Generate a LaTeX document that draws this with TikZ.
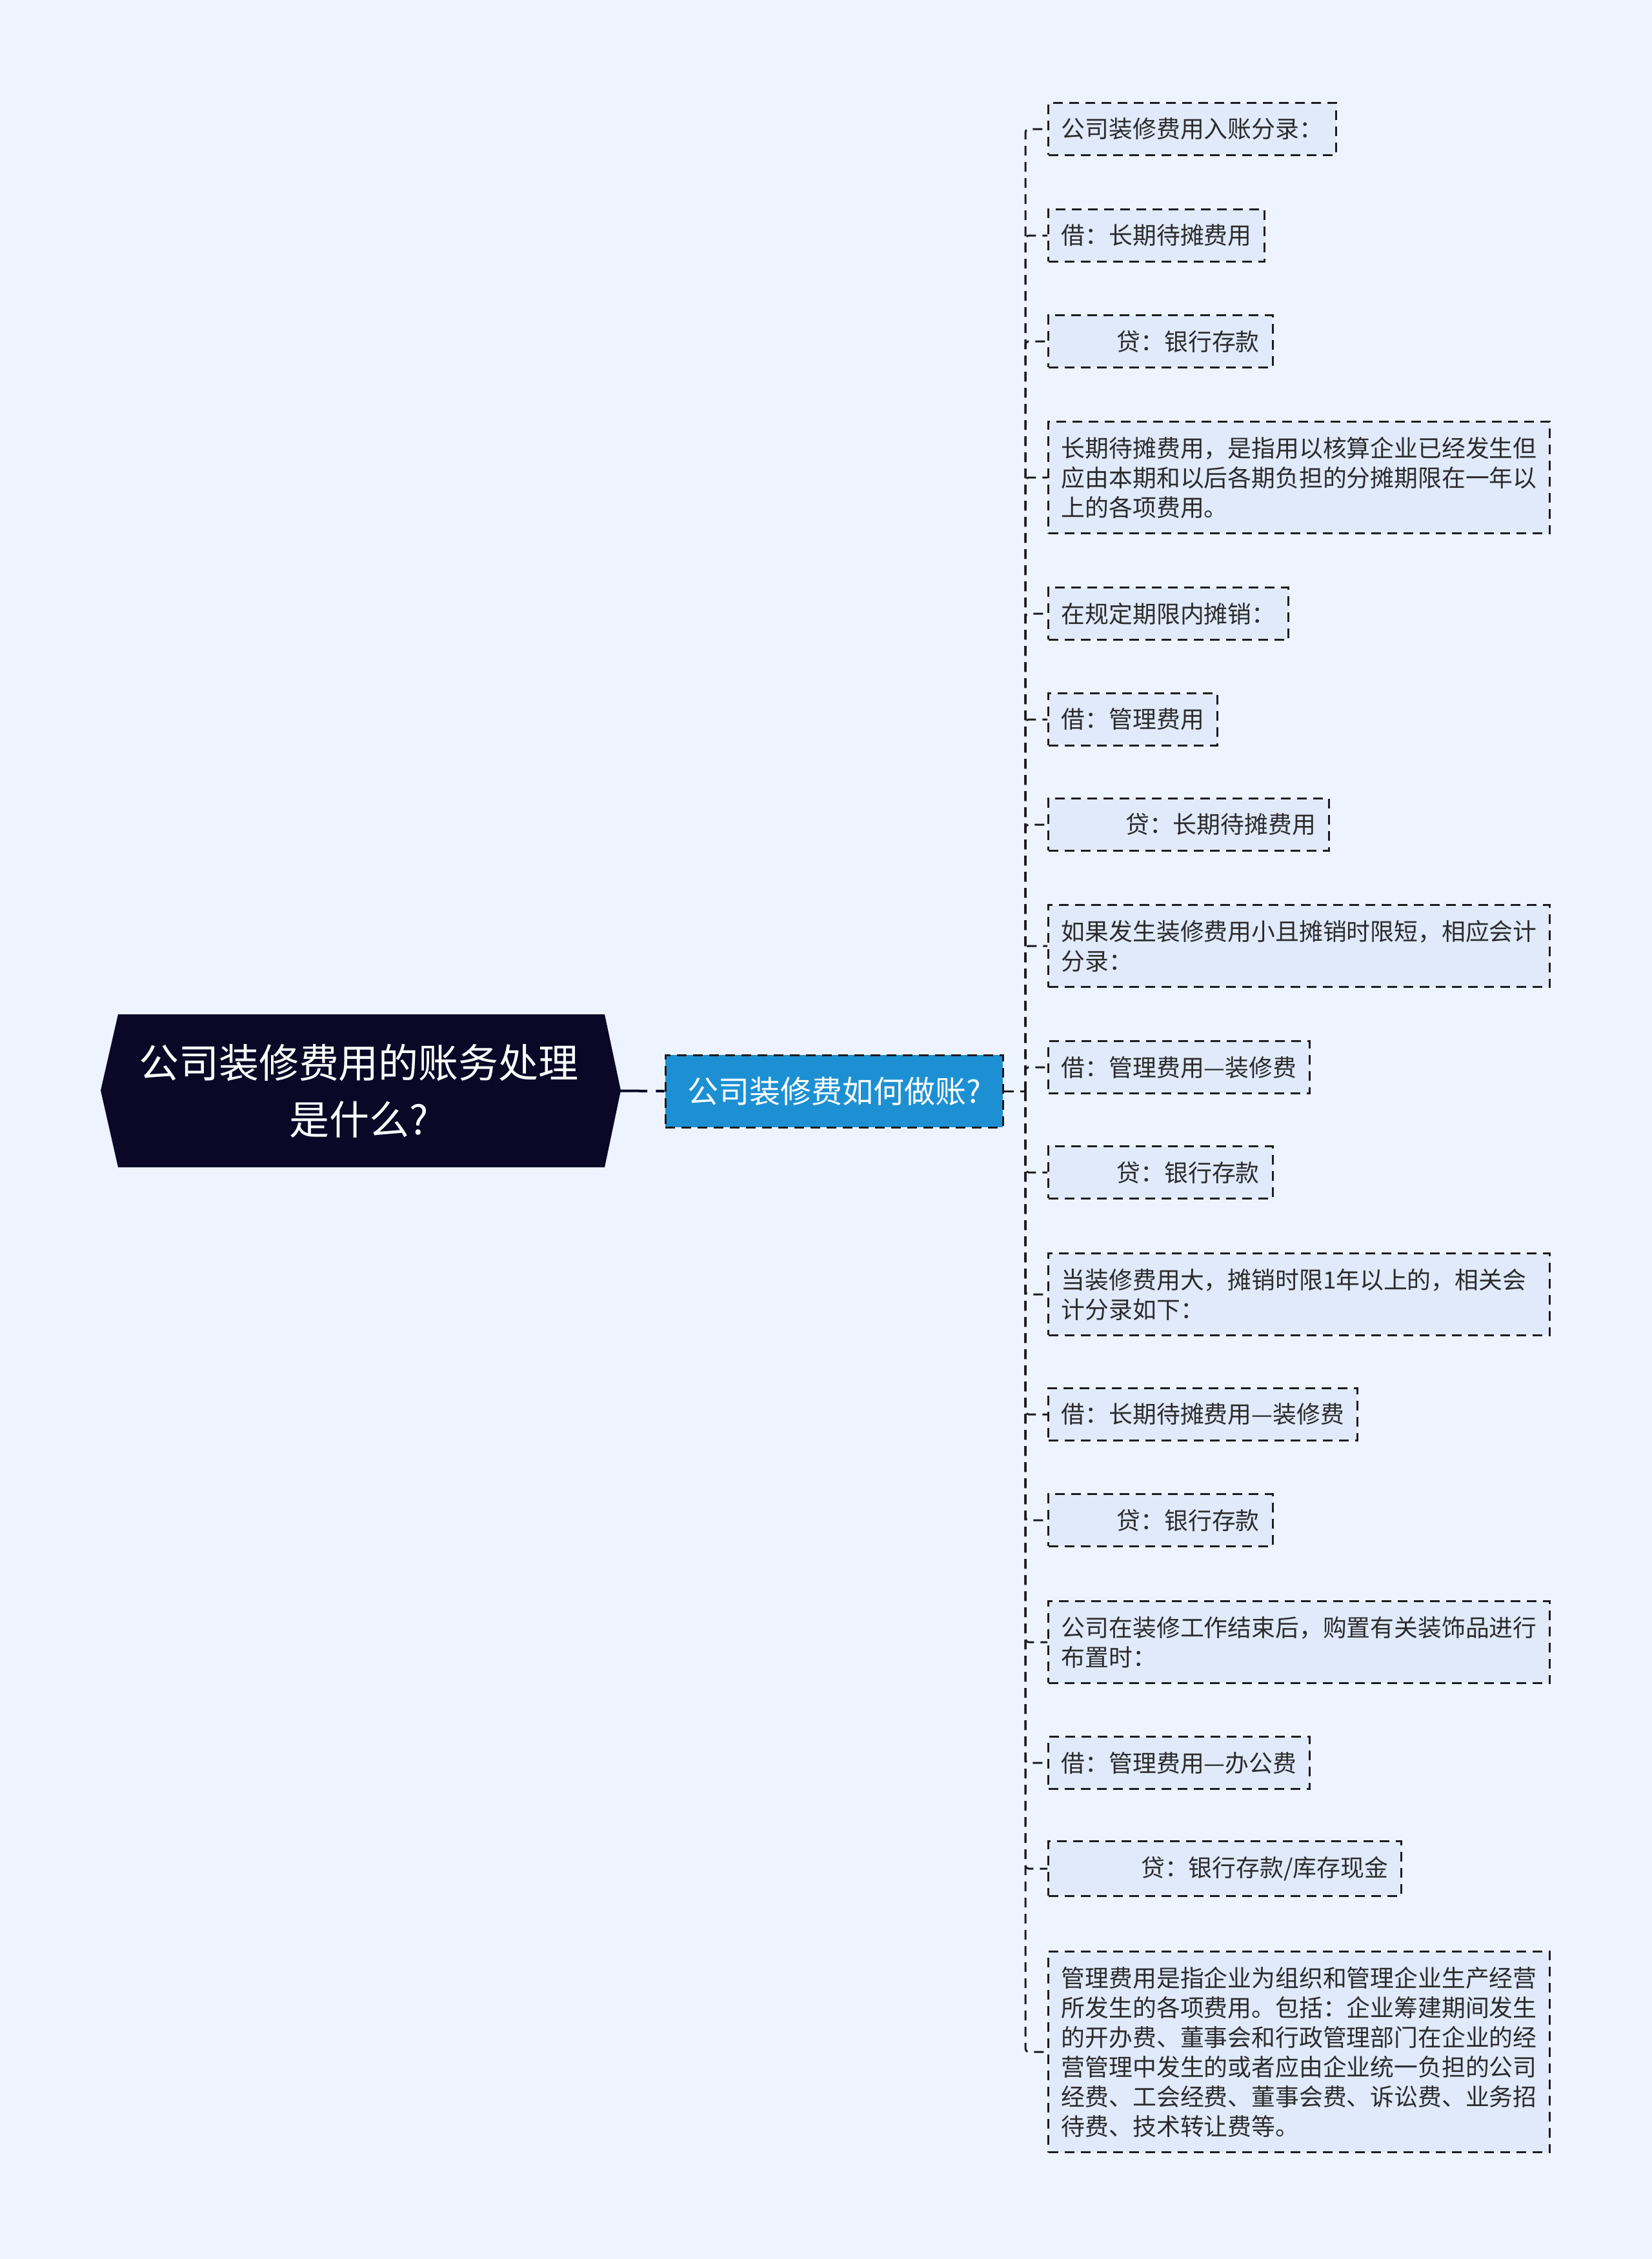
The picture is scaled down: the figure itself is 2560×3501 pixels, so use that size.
\documentclass[tikz,border=0pt]{standalone}
\usepackage{fontspec}
\setmainfont{Noto Sans CJK SC}
\usetikzlibrary{positioning}
\definecolor{cPage}{HTML}{EEF4FF}
\definecolor{cLeaf}{HTML}{E0EAFB}
\definecolor{cRoot}{HTML}{0A0727}
\definecolor{cMid}{HTML}{1D90D3}
\definecolor{cLine}{HTML}{1C1C1C}
\definecolor{cInk}{HTML}{2B2B2B}
\tikzset{
  link/.style={draw=cLine, line width=0.9pt, dash pattern=on 4.5pt off 3pt, rounded corners=1.5pt},
  trunk/.style={draw=cRoot, line width=1.2pt, dash pattern=on 13pt off 4pt},
  leaf/.style={draw=cLine, fill=cLeaf, line width=0.9pt, dash pattern=on 4.5pt off 3pt,
               anchor=west, align=left, text=cInk, inner xsep=6.1pt, inner ysep=7pt,
               font=\fontsize{11.05}{13.8}\selectfont},
  wideleaf/.style={leaf, text width=221pt},
  midbox/.style={draw=cLine, fill=cMid, line width=0.9pt, dash pattern=on 4.5pt off 3pt,
                 text=white, minimum width=156.9pt, minimum height=33.6pt,
                 font=\fontsize{14.4}{16}\selectfont},
  roottext/.style={text=white, align=center, minimum width=241.8pt, minimum height=71.1pt,
                   font=\fontsize{18.6}{26.4}\selectfont},
}

\begin{document}
\begin{tikzpicture}[x=0.3pt,y=-0.3pt]
\useasboundingbox (0,0) rectangle (2560,3501);
\fill[cPage] (0,0) rectangle (2560,3501);

% ================================================== root and branch
\fill[cRoot] (156,1690) -- (183,1572) -- (937,1572) -- (962,1690) -- (937,1809) -- (183,1809) -- cycle;
\node[roottext] (root) at (556,1690.5) {公司装修费用的账务处理\\是什么?};
\node[midbox] (mid) at (1292.5,1691) {公司装修费如何做账?};
\coordinate (hub) at (1589,1691);
\draw[trunk] (root.east) -- (mid.west);
\draw[link] (mid.east) -- (hub);

% ================================================== leaves
\node[leaf] (l1) at (1623,200) {公司装修费用入账分录：};
\node[leaf] (l2) at (1623,365) {借：长期待摊费用};
\node[leaf] (l3) at (1623,529) {\hspace*{2.33em}贷：银行存款};
\node[wideleaf] (l4) at (1623,740)
      {长期待摊费用，是指用以核算企业已经发生但\\应由本期和以后各期负担的分摊期限在一年以\\上的各项费用。};
\node[leaf] (l5) at (1623,951) {在规定期限内摊销：};
\node[leaf] (l6) at (1623,1115) {借：管理费用};
\node[leaf] (l7) at (1623,1278) {\hspace*{2.7em}贷：长期待摊费用};
\node[wideleaf] (l8) at (1623,1466)
      {如果发生装修费用小且摊销时限短，相应会计\\分录：};
\node[leaf] (l9) at (1623,1654) {借：管理费用—装修费};
\node[leaf] (l10) at (1623,1817) {\hspace*{2.33em}贷：银行存款};
\node[wideleaf] (l11) at (1623,2006)
      {当装修费用大，摊销时限1年以上的，相关会\\计分录如下：};
\node[leaf] (l12) at (1623,2192) {借：长期待摊费用—装修费};
\node[leaf] (l13) at (1623,2356) {\hspace*{2.33em}贷：银行存款};
\node[wideleaf] (l14) at (1623,2545)
      {公司在装修工作结束后，购置有关装饰品进行\\布置时：};
\node[leaf] (l15) at (1623,2732) {借：管理费用—办公费};
\node[leaf] (l16) at (1623,2896) {\hspace*{3.35em}贷：银行存款/库存现金};
\node[wideleaf] (l17) at (1623,3180)
      {管理费用是指企业为组织和管理企业生产经营\\所发生的各项费用。包括：企业筹建期间发生\\的开办费、董事会和行政管理部门在企业的经\\营管理中发生的或者应由企业统一负担的公司\\经费、工会经费、董事会费、诉讼费、业务招\\待费、技术转让费等。};

\foreach \n in {1,...,17}
  \draw[link] (hub) |- (l\n.west);

\end{tikzpicture}
\end{document}
